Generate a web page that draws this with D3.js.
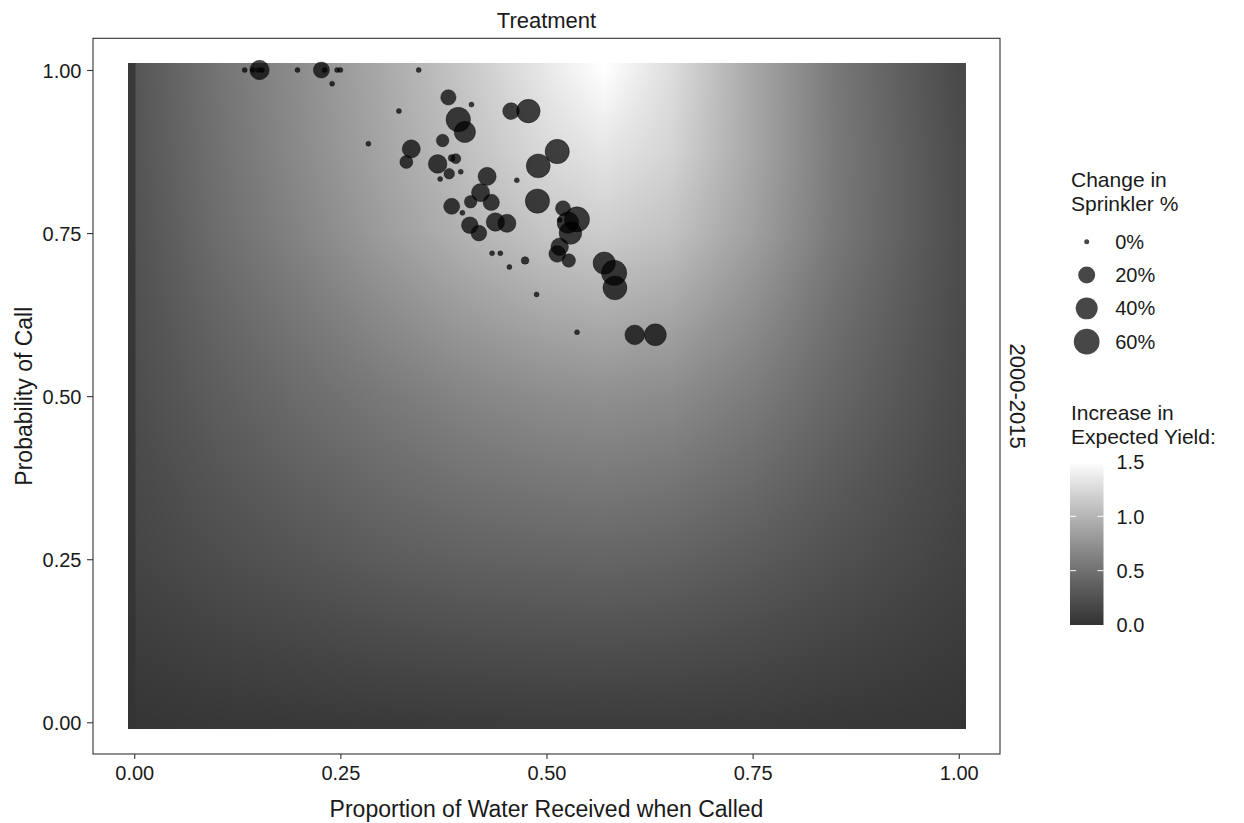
<!DOCTYPE html>
<html>
<head>
<meta charset="utf-8">
<script src="https://cdn.jsdelivr.net/npm/d3@7"></script>
<style>
body { margin: 0; background: #fff; }
text { font-family: "Liberation Sans", Arial, sans-serif; fill: #1a1a1a; }
</style>
</head>
<body>
<svg id="chart" width="1244" height="823"></svg>
<script>
const gridX = [0, 0.001, 0.002, 0.1, 0.2, 0.3, 0.4, 0.5, 0.57, 0.65, 0.75, 0.85, 1.0]
const gridY = [0, 0.25, 0.5, 0.75, 0.875, 1.0]
const yieldRow0 = [0.00, 0.00, 0.02, 0.04, 0.05, 0.06, 0.07, 0.08, 0.08, 0.08, 0.07, 0.05, 0.02]
const yieldRow25 = [0.02, 0.02, 0.15, 0.22, 0.28, 0.34, 0.38, 0.40, 0.41, 0.39, 0.33, 0.25, 0.13]
const yieldRow50 = [0.03, 0.03, 0.22, 0.35, 0.46, 0.56, 0.65, 0.71, 0.73, 0.70, 0.58, 0.42, 0.19]
const yieldRow75 = [0.04, 0.04, 0.26, 0.47, 0.64, 0.82, 0.98, 1.11, 1.16, 1.09, 0.85, 0.56, 0.22]
const yieldRow88 = [0.05, 0.05, 0.28, 0.50, 0.69, 0.88, 1.07, 1.25, 1.33, 1.22, 0.90, 0.57, 0.21]
const yieldRow100 = [0.05, 0.05, 0.29, 0.52, 0.71, 0.91, 1.12, 1.35, 1.50, 1.28, 0.90, 0.56, 0.19]

// districts
const pointX = [0.134, 0.144, 0.151, 0.155, 0.152, 0.198, 0.227, 0.231, 0.246, 0.250,
	0.240, 0.345, 0.321, 0.284, 0.336, 0.330, 0.381, 0.374, 0.368, 0.409,
	0.393, 0.401, 0.457, 0.478, 0.385, 0.390, 0.382, 0.371, 0.396, 0.464,
	0.513, 0.490, 0.428, 0.420, 0.408, 0.433, 0.489, 0.385, 0.398, 0.520,
	0.438, 0.452, 0.407, 0.418, 0.516, 0.537, 0.526, 0.529, 0.516, 0.513,
	0.527, 0.434, 0.444, 0.474, 0.455, 0.488, 0.570, 0.582, 0.583, 0.537,
	0.607, 0.632]
const pointY = [1.000, 1.000, 1.000, 1.000, 1.000, 1.000, 1.000, 1.000, 1.000, 1.000,
	0.979, 1.000, 0.937, 0.887, 0.879, 0.859, 0.958, 0.892, 0.856, 0.947,
	0.924, 0.905, 0.937, 0.937, 0.865, 0.864, 0.841, 0.833, 0.844, 0.831,
	0.875, 0.853, 0.837, 0.812, 0.798, 0.797, 0.799, 0.791, 0.781, 0.788,
	0.767, 0.765, 0.762, 0.750, 0.770, 0.771, 0.766, 0.750, 0.729, 0.718,
	0.708, 0.719, 0.719, 0.708, 0.698, 0.656, 0.704, 0.689, 0.666, 0.598,
	0.594, 0.594]
const pointChange = [0.00, 0.00, 0.00, 0.00, 0.29, 0.00, 0.17, 0.00, 0.00, 0.00,
	0.00, 0.00, 0.00, 0.00, 0.24, 0.09, 0.15, 0.08, 0.26, 0.00,
	0.53, 0.37, 0.19, 0.48, 0.005, 0.035, 0.044, 0.00, 0.00, 0.00,
	0.52, 0.50, 0.24, 0.24, 0.08, 0.18, 0.52, 0.17, 0.00, 0.14,
	0.25, 0.24, 0.19, 0.16, 0.00, 0.56, 0.38, 0.43, 0.22, 0.19,
	0.10, 0.00, 0.00, 0.01, 0.00, 0.00, 0.42, 0.58, 0.50, 0.00,
	0.30, 0.40]

const xTicks = [0, 0.25, 0.5, 0.75, 1]
const yTicks = [0, 0.25, 0.5, 0.75, 1]
const sizeBreaks = [0, 0.2, 0.4, 0.6]
const sizeLabels = ['0%', '20%', '40%', '60%']
const fillBreaks = [0, 0.5, 1.0, 1.5]

const PANEL = { left: 93, right: 1000, top: 38.3, bottom: 754 }
const RASTER = { x0: -0.0077, x1: 1.009, y0: -0.0098, y1: 1.0103 }
const POINT_FILL = 'rgba(0,0,0,0.72)'

let svg = d3.select('#chart')

let x = d3.scaleLinear().domain([-0.05, 1.05]).range([PANEL.left, PANEL.right])
let y = d3.scaleLinear().domain([-0.0486, 1.0486]).range([PANEL.bottom, PANEL.top])
let fill = d3.scaleLinear().domain([0, 1.5]).range(['#333333', '#ffffff'])
	.interpolate(d3.interpolateLab).clamp(true)
let rScale = d3.scaleSqrt().domain([0, 0.87]).range([0, 12.5])
let radius = (v) => { return 2.5 + rScale(v) }

let yieldRows = [yieldRow0, yieldRow25, yieldRow50, yieldRow75, yieldRow88, yieldRow100]

function bracket(arr, v) {
	let i = d3.bisectRight(arr, v) - 1
	i = Math.max(0, Math.min(arr.length - 2, i))
	let t = (v - arr[i]) / (arr[i + 1] - arr[i])
	return [i, Math.max(0, Math.min(1, t))]
}

function surface(px, py) {
	let [i, tx] = bracket(gridX, px)
	let [j, ty] = bracket(gridY, py)
	let a = yieldRows[j][i] * (1 - tx) + yieldRows[j][i + 1] * tx
	let b = yieldRows[j + 1][i] * (1 - tx) + yieldRows[j + 1][i + 1] * tx
	return a * (1 - ty) + b * ty
}

// raster, painted pixel by pixel into a canvas
let rx0 = Math.round(x(RASTER.x0)), rx1 = Math.round(x(RASTER.x1))
let ry0 = Math.round(y(RASTER.y1)), ry1 = Math.round(y(RASTER.y0))
let canvas = document.createElement('canvas')
canvas.width = rx1 - rx0
canvas.height = ry1 - ry0
let ctx = canvas.getContext('2d')
let img = ctx.createImageData(canvas.width, canvas.height)
for (let j = 0; j < canvas.height; j++) {
	let dy = y.invert(ry0 + j + 0.5)
	for (let i = 0; i < canvas.width; i++) {
		let c = d3.rgb(fill(surface(x.invert(rx0 + i + 0.5), dy)))
		let k = (j * canvas.width + i) * 4
		img.data[k] = c.r
		img.data[k + 1] = c.g
		img.data[k + 2] = c.b
		img.data[k + 3] = 255
	}
}
ctx.putImageData(img, 0, 0)

svg.append('image')
	.attr('x', rx0).attr('y', ry0)
	.attr('width', canvas.width).attr('height', canvas.height)
	.attr('preserveAspectRatio', 'none')
	.attr('href', canvas.toDataURL())

// points
let points = pointX.map((v, i) => { return { x: v, y: pointY[i], c: pointChange[i] } })
svg.append('g')
	.selectAll('circle')
	.data(points)
	.enter().append('circle')
		.attr('cx', (d) => { return x(d.x) })
		.attr('cy', (d) => { return y(d.y) })
		.attr('r', (d) => { return radius(d.c) })
		.attr('fill', POINT_FILL)
		.attr('stroke', 'rgba(0,0,0,0.45)')
		.attr('stroke-width', 0.8)

// panel border
svg.append('rect')
	.attr('x', PANEL.left).attr('y', PANEL.top)
	.attr('width', PANEL.right - PANEL.left).attr('height', PANEL.bottom - PANEL.top)
	.attr('fill', 'none').attr('stroke', '#333').attr('stroke-width', 1.1)

// axes
let xAxis = svg.append('g')
	.attr('transform', `translate(0, ${PANEL.bottom})`)
	.call(d3.axisBottom(x).tickValues(xTicks).tickFormat(d3.format('.2f')).tickSize(5).tickPadding(4))
let yAxis = svg.append('g')
	.attr('transform', `translate(${PANEL.left}, 0)`)
	.call(d3.axisLeft(y).tickValues(yTicks).tickFormat(d3.format('.2f')).tickSize(6).tickPadding(5))

for (let ax of [xAxis, yAxis]) {
	ax.select('.domain').remove()
	ax.selectAll('.tick line').attr('stroke', '#333').attr('stroke-width', 1.1)
	ax.selectAll('.tick text')
		.style('font-family', '"Liberation Sans", Arial, sans-serif')
		.style('font-size', '20px')
		.attr('fill', '#1a1a1a')
}
xAxis.selectAll('.tick text').attr('dy', null).attr('y', 25.5)
yAxis.selectAll('.tick text').attr('dy', '0.35em').attr('x', -11.5)

// titles
svg.append('text')
	.attr('x', (PANEL.left + PANEL.right) / 2).attr('y', 816.5)
	.attr('text-anchor', 'middle').style('font-size', '23px')
	.text('Proportion of Water Received when Called')

svg.append('text')
	.attr('transform', `translate(32, ${(PANEL.top + PANEL.bottom) / 2}) rotate(-90)`)
	.attr('text-anchor', 'middle').style('font-size', '23px')
	.text('Probability of Call')

svg.append('text')
	.attr('x', (PANEL.left + PANEL.right) / 2).attr('y', 27.5)
	.attr('text-anchor', 'middle').style('font-size', '22px')
	.text('Treatment')

svg.append('text')
	.attr('transform', `translate(1010, ${(PANEL.top + PANEL.bottom) / 2}) rotate(90)`)
	.attr('text-anchor', 'middle').style('font-size', '22px')
	.text('2000-2015')

// size legend
let sizeLegend = svg.append('g')
sizeLegend.append('text').attr('x', 1071).attr('y', 186.5).style('font-size', '21px').text('Change in')
sizeLegend.append('text').attr('x', 1071).attr('y', 210.5).style('font-size', '21px').text('Sprinkler %')

let keyY = d3.scalePoint().domain(sizeBreaks).range([241.7, 341.7])
let keys = sizeLegend.selectAll('g.key')
	.data(sizeBreaks)
	.enter().append('g')
		.attr('class', 'key')
		.attr('transform', (d) => { return `translate(1086.7, ${keyY(d)})` })
keys.append('circle')
	.attr('r', (d) => { return radius(d) })
	.attr('fill', POINT_FILL)
keys.append('text')
	.attr('x', 28.5).attr('dy', '0.35em')
	.style('font-size', '20px')
	.text((d, i) => { return sizeLabels[i] })

// colour bar
let barY = d3.scaleLinear().domain([0, 1.5]).range([625, 462])
let defs = svg.append('defs')
let grad = defs.append('linearGradient')
	.attr('id', 'bar').attr('x1', 0).attr('y1', 1).attr('x2', 0).attr('y2', 0)
d3.range(0, 1.0001, 0.1).forEach((t) => {
	grad.append('stop').attr('offset', t).attr('stop-color', fill(t * 1.5))
})

let bar = svg.append('g')
bar.append('text').attr('x', 1071).attr('y', 419.5).style('font-size', '21px').text('Increase in')
bar.append('text').attr('x', 1071).attr('y', 443.5).style('font-size', '21px').text('Expected Yield:')
bar.append('rect')
	.attr('x', 1070).attr('y', barY(1.5))
	.attr('width', 33.5).attr('height', barY(0) - barY(1.5))
	.attr('fill', 'url(#bar)')
bar.selectAll('line.l')
	.data(fillBreaks.slice(1, 3))
	.enter().append('line')
		.attr('x1', 1070).attr('x2', 1076)
		.attr('y1', (d) => { return barY(d) }).attr('y2', (d) => { return barY(d) })
		.attr('stroke', '#fff').attr('stroke-width', 1)
bar.selectAll('line.r')
	.data(fillBreaks.slice(1, 3))
	.enter().append('line')
		.attr('x1', 1097.5).attr('x2', 1103.5)
		.attr('y1', (d) => { return barY(d) }).attr('y2', (d) => { return barY(d) })
		.attr('stroke', '#fff').attr('stroke-width', 1)
bar.selectAll('text.lab')
	.data(fillBreaks)
	.enter().append('text')
		.attr('class', 'lab')
		.attr('x', 1116.5)
		.attr('y', (d) => { return barY(d) })
		.attr('dy', '0.36em')
		.style('font-size', '20px')
		.text((d) => { return d3.format('.1f')(d) })
</script>
</body>
</html>
